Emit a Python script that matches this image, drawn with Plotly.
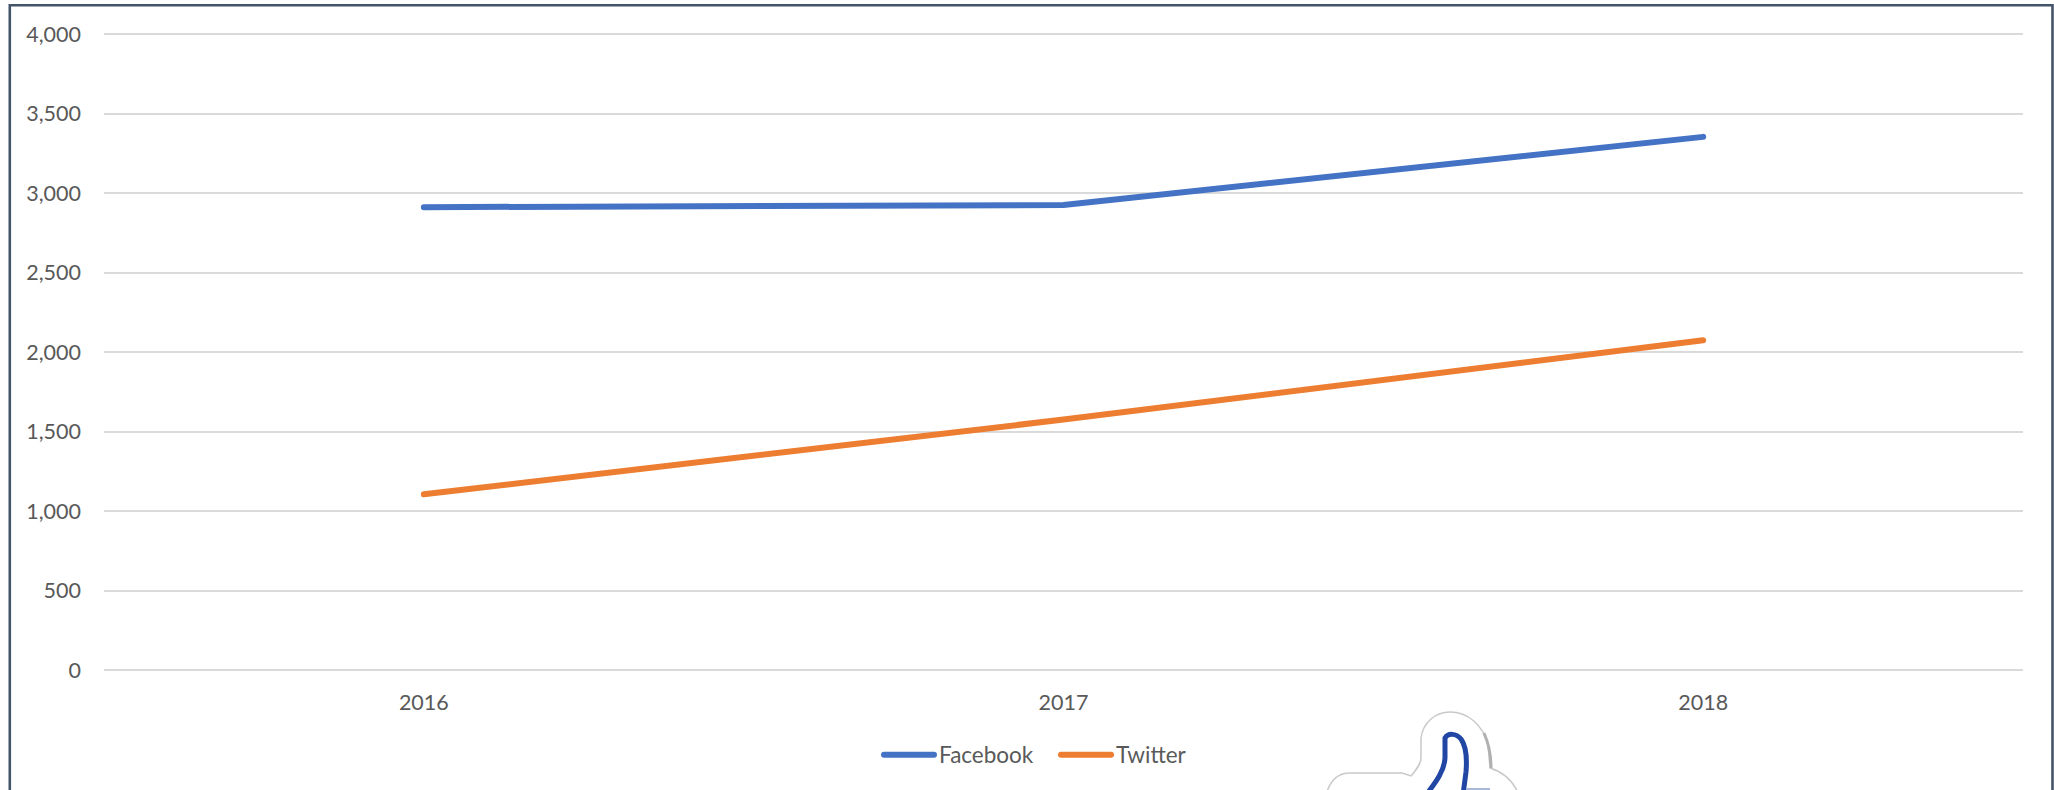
import plotly.graph_objects as go

years = ["2016", "2017", "2018"]
facebook = [2911, 2924, 3353]
twitter = [1105, 1575, 2074]
y_ticks = [0, 500, 1000, 1500, 2000, 2500, 3000, 3500, 4000]

W, H = 2054, 790
L, R, T, B = 104, 31, 32, 120
Y_TOP = 4012.6
FONT = "Lato, Carlito, Calibri, sans-serif"
TEXT = "#595959"
GRID = "#DADADA"


def px(x, y):
    return f"{(x - L) / (W - L - R):.5f},{(H - B - y) / (H - T - B):.5f}"


def path(points):
    out = []
    for c, *pts in points:
        out.append(c + " ".join(px(*p) for p in pts))
    return " ".join(out)


frame = path([("M", (9.8, 800)), ("L", (9.8, 5.3)), ("L", (2052.5, 5.3)), ("L", (2052.5, 800))])
outline = path([
    ("M", (1326, 795)), ("C", (1330, 780), (1338, 773), (1350, 773)), ("L", (1402, 773)),
    ("L", (1411, 776)), ("C", (1416, 770), (1421, 764), (1421, 758)), ("L", (1421, 738)),
    ("C", (1423, 722), (1436, 712), (1450, 712)), ("C", (1468, 712), (1483, 725), (1488, 745)),
    ("L", (1490, 768)), ("C", (1503, 772), (1513, 780), (1519, 795)),
])
shade = path([("M", (1484, 733)), ("C", (1488, 742), (1491, 752), (1491, 768))])
blue = path([
    ("M", (1426, 795)), ("C", (1436, 782), (1445, 770), (1445, 757)), ("L", (1445, 738)),
    ("C", (1448, 733), (1456, 733), (1461, 739)), ("C", (1466, 746), (1467, 760), (1466, 772)),
    ("L", (1463, 795)),
])
pale = path([("M", (1466, 789)), ("L", (1490, 789))])

fig = go.Figure()
fig.add_trace(go.Scatter(x=years, y=facebook, name="Facebook", mode="lines",
                         line=dict(color="#4472C4", width=6)))
fig.add_trace(go.Scatter(x=years, y=twitter, name="Twitter", mode="lines",
                         line=dict(color="#ED7D31", width=6)))

fig.update_layout(
    width=W, height=H, autosize=False,
    margin=dict(l=L, r=R, t=T, b=B, pad=0),
    paper_bgcolor="white", plot_bgcolor="white",
    font=dict(family=FONT, size=21.5, color=TEXT),
    xaxis=dict(type="category", range=[-0.5, 2.5], showgrid=False, zeroline=False,
               showline=False, ticks="", ticklabelstandoff=17),
    yaxis=dict(range=[0, Y_TOP], tickvals=y_ticks, tickformat=",", showgrid=True,
               gridcolor=GRID, gridwidth=2, zeroline=True, zerolinecolor=GRID,
               zerolinewidth=2, showline=False, ticks="", ticklabelstandoff=22),
    legend=dict(orientation="h", xanchor="left", yanchor="middle",
                x=(879 - L) / (W - L - R), y=(H - B - 755) / (H - T - B),
                itemwidth=50, entrywidth=112, entrywidthmode="pixels",
                font=dict(size=22.5, color=TEXT), bgcolor="rgba(0,0,0,0)", traceorder="normal",
                itemclick=False, itemdoubleclick=False),
    showlegend=True,
    shapes=[
        dict(type="path", xref="paper", yref="paper", path=frame, line=dict(color="#44546A", width=2.6), layer="above"),
        dict(type="path", xref="paper", yref="paper", path=outline, line=dict(color="#C9C9C9", width=1.5), layer="above"),
        dict(type="path", xref="paper", yref="paper", path=shade, line=dict(color="#B0B0B0", width=3), layer="above"),
        dict(type="path", xref="paper", yref="paper", path=blue, line=dict(color="#2146A4", width=5), layer="above"),
        dict(type="path", xref="paper", yref="paper", path=pale, line=dict(color="#A9B7DA", width=2), layer="above"),
    ],
)

post = """
document.body.style.margin = '0';
document.querySelectorAll('.js-line').forEach(function (p) { p.style.strokeLinecap = 'round'; });
"""
fig.write_html("out.html", post_script=post, config={"displayModeBar": False})
